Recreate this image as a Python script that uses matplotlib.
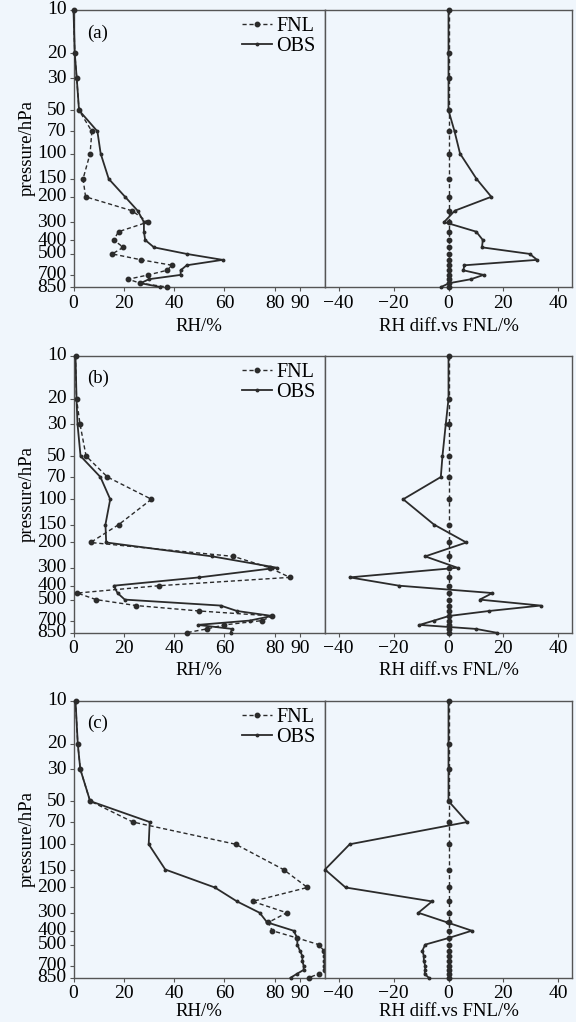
import matplotlib
matplotlib.use("Agg")
import matplotlib.pyplot as plt
from matplotlib.ticker import FixedLocator, NullLocator, FixedFormatter

plt.rcParams['font.family'] = ['Liberation Serif', 'DejaVu Serif']
plt.rcParams['font.size'] = 13
plt.rcParams['axes.unicode_minus'] = True

# ---------------- data ----------------
levels = [10, 20, 30, 50, 70, 100, 150, 200, 250, 300, 350, 400, 450, 500,
          550, 600, 650, 700, 750, 800, 850]

fnl_a = [0, 0.5, 1.3, 2.2, 7.3, 6.6, 3.8, 4.8, 23.2, 29.6, 17.9, 16.0, 19.8,
         15.4, 27.0, 39.2, 37.2, 29.8, 21.8, 26.5, 37.2]
obs_a = [0, 0.5, 1.3, 2.2, 9.5, 10.8, 14.0, 20.5, 25.5, 28.0, 28.0, 28.5, 32.0,
         45.0, 59.3, 45.0, 42.6, 42.6, 30.0, 26.7, 34.5]
diff_a = [0, 0, 0, 0, 2.2, 4.2, 10.2, 15.6, 2.3, -1.6, 10.1, 12.5, 12.2, 29.6,
          32.3, 5.8, 5.4, 12.8, 8.2, 0.2, -2.7]

fnl_b = [0.8, 1.2, 2.6, 5.0, 13.5, 31.0, 18.0, 6.8, 63.6, 78.0, 86.0, 34.0, 1.5,
         9.0, 24.9, 50.0, 79.0, 75.0, 60.0, 53.0, 45.0]
obs_b = [0.8, 1.2, 1.6, 2.8, 10.7, 14.6, 12.7, 13.0, 55.2, 81.0, 50.0, 16.0,
         17.5, 20.4, 58.5, 65.0, 79.0, 70.0, 49.4, 63.0, 62.5]
diff_b = [0, 0, -1.0, -2.2, -2.8, -16.5, -5.3, 6.5, -8.5, 3.3, -36.0, -18.0,
          16.0, 11.4, 33.6, 14.8, 0.2, -5.3, -10.6, 10.0, 17.5]

fnl_c = [0.8, 1.7, 2.7, 6.6, 23.6, 64.5, 83.5, 93.0, 71.2, 84.8, 77.5, 79.0,
         89.0, 97.5, 99.5, 100.0, 100.0, 100.0, 100.0, 97.5, 93.5]
obs_c = [0.8, 1.7, 2.7, 6.6, 30.3, 29.9, 36.5, 56.2, 65.0, 74.0, 77.0, 87.5,
         89.0, 89.0, 90.0, 91.0, 91.0, 91.5, 91.5, 88.8, 86.3]
diff_c = [0, 0, 0, 0, 6.8, -36.0, -45.0, -37.5, -6.0, -11.0, -0.5, 8.5, 0.0,
          -8.5, -9.5, -9.0, -9.0, -8.5, -8.5, -8.7, -7.2]

fnl_self_diff = [0] * len(levels)

panel_labels = ['(a)', '(b)', '(c)']
ytick_vals = [10, 20, 30, 50, 70, 100, 150, 200, 300, 400, 500, 700, 850]
ytick_labels = ['10', '20', '30', '50', '70', '100', '150', '200', '300',
                '400', '500', '700', '850']
left_xticks = [0, 20, 40, 60, 80, 90]
right_xticks = [-40, -20, 0, 20, 40]

panels = [(fnl_a, obs_a, diff_a), (fnl_b, obs_b, diff_b), (fnl_c, obs_c, diff_c)]

# ---------------- figure ----------------
W, H = 576, 1022
bg = '#F0F6FC'
fig = plt.figure(figsize=(W / 100, H / 100), dpi=100, facecolor=bg)

tops = [10, 355.7, 700.7]
xlabel_pads = [4.5, 3.5, 0.5]
ax_h = 277
lx0, lx1 = 73.5, 325
rx0, rx1 = 325, 572
lc = '#2b2b2b'
spc = '#555555'
tick_fs = 14

for i, (fnl, obs, diff) in enumerate(panels):
    bottom = 1 - (tops[i] + ax_h) / H
    axl = fig.add_axes([lx0 / W, bottom, (lx1 - lx0) / W, ax_h / H])
    axr = fig.add_axes([rx0 / W, bottom, (rx1 - rx0) / W, ax_h / H])
    for ax in (axl, axr):
        ax.set_facecolor(bg)
        ax.set_yscale('log')
        ax.set_ylim(850, 10)
        for s in ax.spines.values():
            s.set_color(spc)
            s.set_linewidth(1.0)
        ax.tick_params(axis='x', direction='out', length=3, width=0.8,
                       color=spc, pad=2.5, labelsize=tick_fs)
    # left panel
    axl.plot(fnl, levels, color=lc, lw=1.0, ls=(0, (3, 2)), marker='o', ms=3.2,
             label='FNL', clip_on=False, zorder=3)
    axl.plot(obs, levels, color=lc, lw=1.3, ls='-', marker='o', ms=1.8,
             label='OBS', clip_on=False, zorder=3)
    axl.set_xlim(0, 100)
    axl.xaxis.set_major_locator(FixedLocator(left_xticks))
    axl.yaxis.set_major_locator(FixedLocator(ytick_vals))
    axl.yaxis.set_major_formatter(FixedFormatter(ytick_labels))
    axl.yaxis.set_minor_locator(NullLocator())
    axl.tick_params(axis='y', direction='out', length=3, width=0.8, color=spc,
                    pad=2, labelsize=tick_fs)
    for lab in axl.get_yticklabels():
        lab.set_verticalalignment('center')
    axl.set_xlabel('RH/%', labelpad=xlabel_pads[i], fontsize=13.5)
    axl.set_ylabel('pressure/hPa', labelpad=1, fontsize=13.5)
    axl.text(0.055, 0.948, panel_labels[i], transform=axl.transAxes,
             ha='left', va='top', fontsize=13.5)
    axl.legend(loc='upper left', bbox_to_anchor=(0.67, 0.975), frameon=False,
               handlelength=1.5, handletextpad=0.2, labelspacing=0.05,
               borderaxespad=0, borderpad=0, fontsize=14.5)
    # right panel
    axr.plot(fnl_self_diff, levels, color=lc, lw=1.0, ls=(0, (3, 2)),
             marker='o', ms=3.2, clip_on=False, zorder=3)
    axr.plot(diff, levels, color=lc, lw=1.3, ls='-', marker='o', ms=1.8,
             clip_on=False, zorder=3)
    axr.set_xlim(-45, 45)
    axr.xaxis.set_major_locator(FixedLocator(right_xticks))
    axr.yaxis.set_major_locator(NullLocator())
    axr.yaxis.set_minor_locator(NullLocator())
    axr.set_xlabel('RH diff.vs FNL/%', labelpad=xlabel_pads[i], fontsize=13.5)

fig.savefig('out.png', dpi=100, facecolor=bg)
